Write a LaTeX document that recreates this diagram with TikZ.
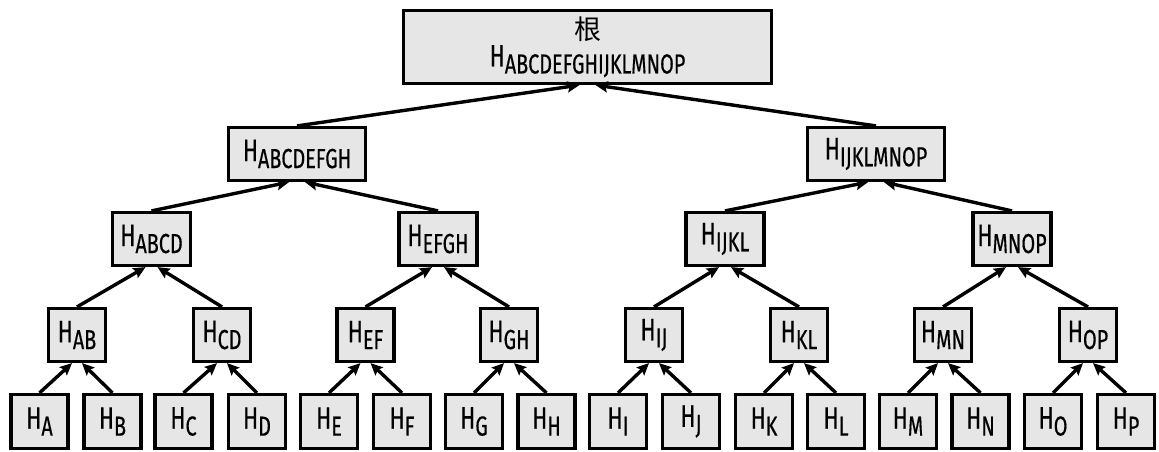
\documentclass[tikz,border=0pt]{standalone}
\usepackage{fontspec}
\setmainfont[FakeStretch=0.72,FakeBold=0.4]{Fira Sans}
\newfontfamily\cjkfont{Noto Sans CJK SC}
\usetikzlibrary{arrows.meta}
\definecolor{boxgray}{RGB}{230,230,230}
\newcommand{\hsub}[1]{H\raisebox{-7pt}{\fontsize{27.5}{28}\selectfont #1}}
\begin{document}
\begin{tikzpicture}[x=1pt,y=-1pt,
  hb/.style={draw, line width=3.2pt, fill=boxgray, inner sep=0pt,
    minimum height=53pt, font=\fontsize{31}{32}\selectfont},
  leaf/.style={hb, minimum width=57pt, minimum height=54pt},
  lone/.style={hb, minimum width=57pt},
  ltwo/.style={hb, minimum width=78pt},
  lthree/.style={hb, minimum width=137pt},
  arr/.style={line width=3.4pt, -{Stealth[length=12pt,width=11pt,inset=2pt]}}]
\useasboundingbox (0,0) rectangle (1159,451);
% leaves
\foreach \n/\x in {A/39.5,B/112.5,C/183.5,D/257,E/329,F/402,G/474,H/546.5,
                   I/618,J/691,K/764,L/836,M/908,N/980.5,O/1053,P/1126}
  \node[leaf] (\n) at (\x,421.5) {\hsub{\n}};
% level 1
\foreach \n/\x in {AB/77,CD/222,EF/365.5,GH/509,IJ/654,KL/799,MN/943,OP/1088}
  \node[lone] (\n) at (\x,335) {\hsub{\n}};
% level 2
\foreach \n/\x in {ABCD/151.5,EFGH/438,IJKL/725,MNOP/1012}
  \node[ltwo] (\n) at (\x,239) {\hsub{\n}};
% level 3
\foreach \n/\x in {ABCDEFGH/297,IJKLMNOP/876}
  \node[lthree] (\n) at (\x,154) {\hsub{\n}};
% root
\node[hb, minimum width=368pt, minimum height=73pt, align=center] (root) at (587.5,47)
  {{\cjkfont\fontsize{27}{28}\selectfont 根}\\[-5pt]\hsub{ABCDEFGHIJKLMNOP}};
% edges
\foreach \p/\l/\r/\d in {AB/A/B/5,CD/C/D/5,EF/E/F/5,GH/G/H/5,IJ/I/J/5,KL/K/L/5,MN/M/N/5,OP/O/P/5,
    ABCD/AB/CD/6,EFGH/EF/GH/6,IJKL/IJ/KL/6,MNOP/MN/OP/6,
    ABCDEFGH/ABCD/EFGH/8,IJKLMNOP/IJKL/MNOP/8,root/ABCDEFGH/IJKLMNOP/8}{
  \draw[arr] (\l.north) -- ([xshift=-\d pt]\p.south);
  \draw[arr] (\r.north) -- ([xshift=\d pt]\p.south);
}
\end{tikzpicture}
\end{document}
